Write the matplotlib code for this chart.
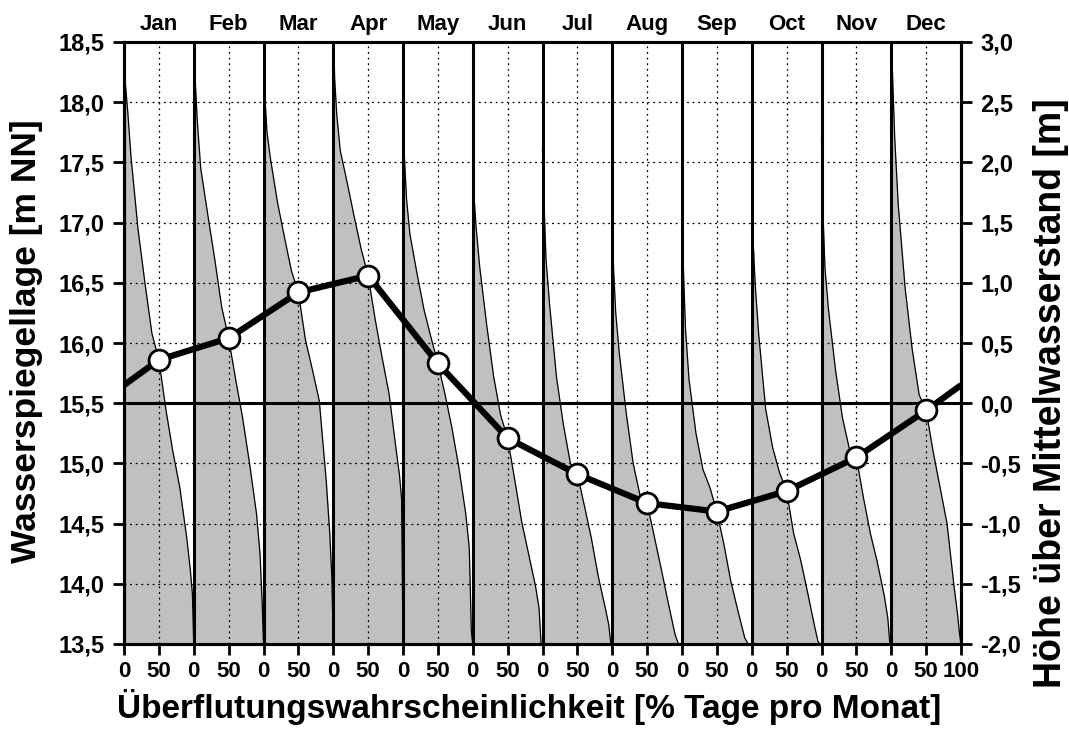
import numpy as np
import matplotlib
matplotlib.use("Agg")
import matplotlib.pyplot as plt
from matplotlib.ticker import FixedLocator, FuncFormatter

plt.rcParams['font.family'] = ['Liberation Sans', 'DejaVu Sans']
plt.rcParams['font.weight'] = 'bold'

# ---------------- data ----------------
months = ["Jan", "Feb", "Mar", "Apr", "May", "Jun",
          "Jul", "Aug", "Sep", "Oct", "Nov", "Dec"]

# exceedance percentage grid (% of days per month)
pct = [0, 2, 5, 10, 20, 30, 40, 50, 60, 70, 80, 90, 95, 98, 100]

# water level duration curves [m NN] per month at the pct grid
jan = [18.6, 18.15, 17.95, 17.55, 16.95, 16.5, 16.08, 15.86, 15.45, 15.1, 14.8, 14.38, 14.12, 13.92, 13.5]
feb = [18.6, 18.2, 17.85, 17.45, 17.07, 16.7, 16.3, 16.04, 15.7, 15.38, 15.0, 14.58, 14.25, 13.85, 13.5]
mar = [18.7, 18.05, 17.75, 17.53, 17.17, 16.88, 16.6, 16.42, 16.03, 15.78, 15.52, 14.85, 14.42, 14.05, 13.5]
apr = [18.7, 18.2, 17.9, 17.6, 17.33, 17.05, 16.78, 16.56, 16.2, 15.88, 15.58, 15.12, 14.9, 14.7, 13.5]
may = [18.6, 17.55, 17.2, 16.9, 16.58, 16.28, 16.05, 15.83, 15.58, 15.3, 14.97, 14.58, 14.3, 13.6, 13.5]
jun = [18.5, 17.2, 16.95, 16.63, 16.15, 15.72, 15.4, 15.21, 14.87, 14.52, 14.25, 13.98, 13.8, 13.5, 13.5]
jul = [17.6, 17.2, 16.7, 16.33, 15.72, 15.32, 15.0, 14.91, 14.65, 14.38, 14.06, 13.8, 13.66, 13.5, 13.5]
aug = [17.0, 16.6, 16.25, 15.92, 15.42, 15.0, 14.73, 14.67, 14.4, 14.13, 13.85, 13.58, 13.5, 13.5, 13.5]
sep = [17.05, 16.62, 16.12, 15.7, 15.25, 14.95, 14.8, 14.6, 14.33, 14.02, 13.78, 13.55, 13.5, 13.5, 13.5]
oct_ = [17.35, 16.85, 16.48, 16.07, 15.45, 15.13, 14.92, 14.77, 14.42, 14.2, 13.93, 13.65, 13.52, 13.5, 13.5]
nov = [17.7, 17.1, 16.62, 16.28, 15.78, 15.38, 15.12, 15.05, 14.72, 14.42, 14.18, 13.9, 13.72, 13.5, 13.5]
dec = [18.6, 18.2, 17.7, 17.15, 16.45, 15.95, 15.57, 15.44, 15.1, 14.8, 14.5, 13.98, 13.75, 13.58, 13.5]
curves = [jan, feb, mar, apr, may, jun, jul, aug, sep, oct_, nov, dec]

mean_level = 15.5          # Mittelwasserstand [m NN]
y_min, y_max = 13.5, 18.5
y_ticks = [13.5, 14.0, 14.5, 15.0, 15.5, 16.0, 16.5, 17.0, 17.5, 18.0, 18.5]
right_ticks = [-2.0, -1.5, -1.0, -0.5, 0.0, 0.5, 1.0, 1.5, 2.0, 2.5, 3.0]

# ---------------- figure ----------------
W, H = 1069, 729
fig = plt.figure(figsize=(W / 100, H / 100), dpi=100)
ax = fig.add_axes([124 / W, 1 - 644 / H, (961 - 124) / W, (644 - 42) / H])

n = len(months)
ax.set_xlim(0, 100 * n)
ax.set_ylim(y_min, y_max)

pct_arr = np.array(pct, dtype=float)
for i, vals in enumerate(curves):
    x = i * 100 + pct_arr
    ax.fill_between(x, y_min, vals, color='#c0c0c0', lw=0, zorder=1)
    ax.plot(x, vals, color='black', lw=0.9, zorder=3)

# dotted grid
for yv in y_ticks:
    if yv != mean_level:
        ax.axhline(yv, color='black', lw=0.9, ls=(0, (1.5, 3)), zorder=2)
for i in range(n):
    ax.axvline(i * 100 + 50, color='black', lw=0.9, ls=(0, (1.5, 3)), zorder=2)

# month borders
for i in range(n + 1):
    ax.axvline(i * 100, color='black', lw=2.2, zorder=4)
ax.axhline(mean_level, color='black', lw=2.2, zorder=4)

# median line (values at 50 %)
i50 = pct.index(50)
medians = [c[i50] for c in curves]
edge = (medians[0] + medians[-1]) / 2
mx = [0] + [i * 100 + 50 for i in range(n)] + [100 * n]
my = [edge] + medians + [edge]
ax.plot(mx, my, color='black', lw=4.5, zorder=5, solid_capstyle='butt')
ax.plot(mx[1:-1], medians, ls='none', marker='o', ms=15, mfc='white',
        mec='black', mew=2, zorder=6)

# ticks
xt = list(range(0, 100 * n + 1, 50))
ax.xaxis.set_major_locator(FixedLocator(xt))
ax.set_xticklabels([str(v % 100) if v < 100 * n else "100" for v in xt], fontsize=16, fontweight='bold')
ax.yaxis.set_major_locator(FixedLocator(y_ticks))
ax.yaxis.set_major_formatter(FuncFormatter(lambda v, p: f"{v:.1f}".replace('.', ',')))
ax.tick_params(axis='y', direction='out', length=8, width=2, pad=6, labelsize=17)
ax.tick_params(axis='x', direction='out', length=8, width=2, pad=4.5)
for t in ax.get_yticklabels():
    t.set_fontweight('bold')
for s in ax.spines.values():
    s.set_linewidth(2.2)
    s.set_zorder(7)

ax2 = ax.twinx()
ax2.set_ylim(y_min - mean_level, y_max - mean_level)
ax2.yaxis.set_major_locator(FixedLocator(right_ticks))
ax2.yaxis.set_major_formatter(FuncFormatter(lambda v, p: f"{v:.1f}".replace('.', ',').replace('-0,0', '0,0')))
ax2.tick_params(axis='y', direction='out', length=8, width=2, pad=6, labelsize=17)
for t in ax2.get_yticklabels():
    t.set_fontweight('bold')
for s in ax2.spines.values():
    s.set_linewidth(2.2)

# month labels
for i, m in enumerate(months):
    ax.text(i * 100 + 50, 1.012, m, transform=ax.get_xaxis_transform(),
            ha='center', va='bottom', fontsize=16, fontweight='bold')

# axis titles
fig.text(529 / W, 1 - 718 / H, "Überflutungswahrscheinlichkeit [% Tage pro Monat]",
         fontsize=24, fontweight='bold', ha='center', va='baseline')
fig.text(27 / W, 1 - 341 / H, "Wasserspiegellage [m NN]", rotation=90,
         fontsize=25.5, fontweight='bold', ha='center', va='center')
fig.text(1051 / W, 1 - 393 / H, "Höhe über Mittelwasserstand [m]", rotation=90,
         fontsize=27, fontweight='bold', ha='center', va='center')

fig.savefig("out.png", dpi=100)
